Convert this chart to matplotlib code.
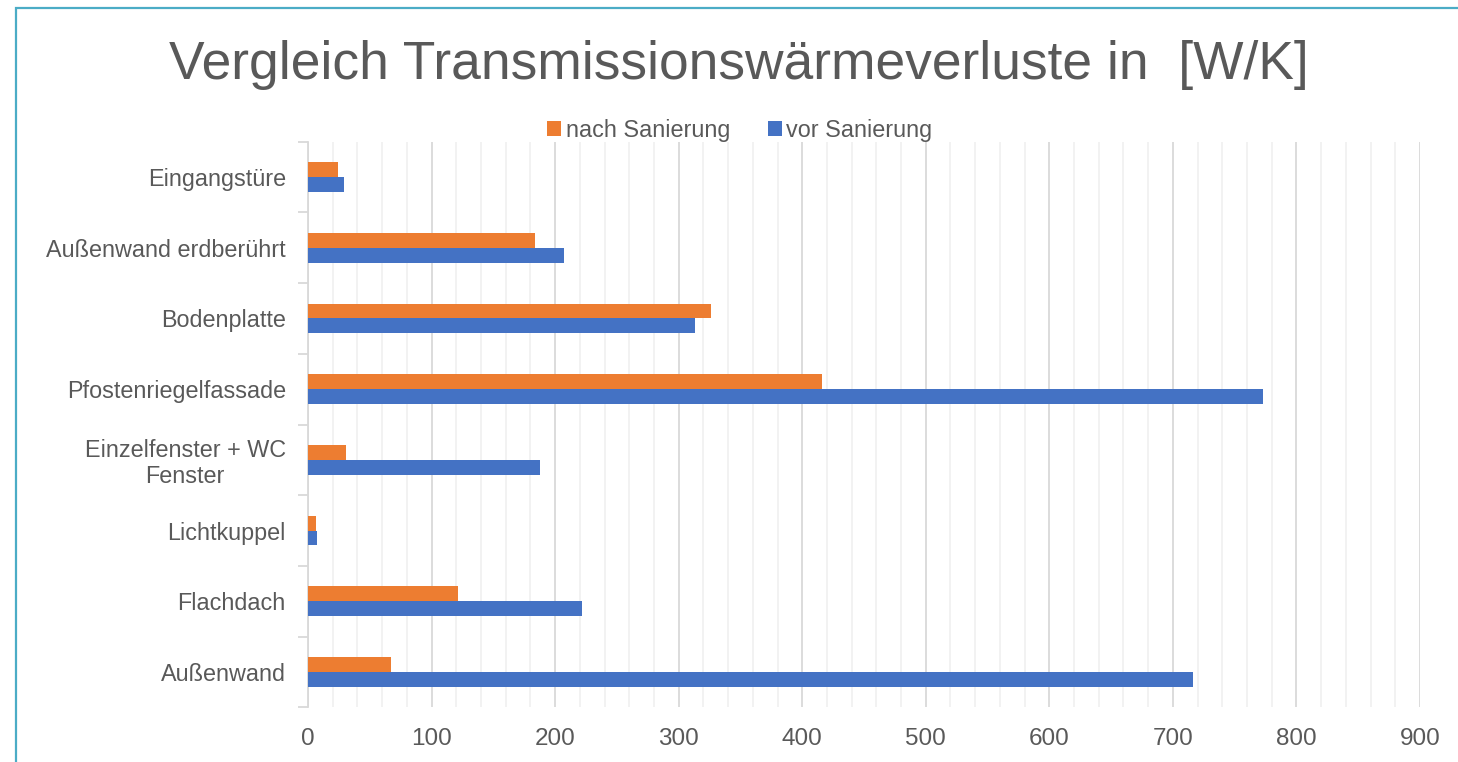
import matplotlib
matplotlib.use("Agg")
import matplotlib.pyplot as plt
import numpy as np
from matplotlib.patches import Rectangle

categories = ["Außenwand", "Flachdach", "Lichtkuppel", "Einzelfenster + WC\nFenster",
              "Pfostenriegelfassade", "Bodenplatte", "Außenwand erdberührt", "Eingangstüre"]
vor_sanierung = [716, 222, 7.5, 188, 773, 313, 207, 29.5]
nach_sanierung = [67, 121, 6.5, 30.5, 416, 326, 184, 24.5]
x_ticks = [0, 100, 200, 300, 400, 500, 600, 700, 800, 900]

TEXT = "#595959"
ORANGE = "#ED7D31"
BLUE = "#4472C4"

plt.rcParams['font.family'] = ['Liberation Sans', 'DejaVu Sans']

W, H = 1458, 762
fig = plt.figure(figsize=(W / 100, H / 100), dpi=100)
fig.patch.set_facecolor("white")

# outer light-blue border (left and top visible)
fig.patches.append(Rectangle((16 / W, -0.1), 1.2, (H - 8) / H + 0.1, transform=fig.transFigure,
                             fill=False, edgecolor="#4BACC6", linewidth=1.6))

ax = fig.add_axes([308 / W, 54.6 / H, (1420 - 308) / W, (707.4 - 141.6) / H])

y = np.arange(len(categories))
h = 0.21
ax.barh(y - h / 2, vor_sanierung, height=h, color=BLUE, label="vor Sanierung", zorder=3)
ax.barh(y + h / 2, nach_sanierung, height=h, color=ORANGE, label="nach Sanierung", zorder=3)

ax.set_xlim(0, 900)
ax.set_ylim(-0.5, len(categories) - 0.5)

ax.set_xticks(x_ticks)
ax.set_xticklabels([str(t) for t in x_ticks], fontsize=17.5, color=TEXT)
ax.set_xticks(np.arange(0, 901, 20), minor=True)
ax.grid(axis="x", which="major", color="#D9D9D9", linewidth=1.3, zorder=0)
ax.grid(axis="x", which="minor", color="#F0F0F0", linewidth=1.2, zorder=0)
ax.tick_params(axis="x", which="both", length=0, pad=15)

ax.set_yticks(y)
ax.set_yticklabels(categories, fontsize=16.8, color=TEXT, linespacing=1.15, multialignment="center")
ax.set_yticks(np.arange(-0.5, len(categories), 1.0), minor=True)
ax.tick_params(axis="y", which="major", length=0, pad=16)
ax.tick_params(axis="y", which="minor", length=7, width=1.3, color="#D9D9D9")

for s in ["top", "right", "bottom"]:
    ax.spines[s].set_visible(False)
ax.spines["left"].set_color("#D9D9D9")
ax.spines["left"].set_linewidth(1.3)

fig.text(739 / W, 1 - 65 / H, "Vergleich Transmissionswärmeverluste in  [W/K]",
         ha="center", va="center", fontsize=38.4, color=TEXT)

handles, labels = ax.get_legend_handles_labels()
leg = fig.legend(handles[::-1], labels[::-1], loc="center", bbox_to_anchor=(740 / W, 1 - 130 / H),
                 ncol=2, frameon=False, fontsize=16.8, handlelength=0.6, handleheight=0.6,
                 handletextpad=0.2, columnspacing=1.6)
for t in leg.get_texts():
    t.set_color(TEXT)

fig.savefig("out.png", dpi=100, facecolor="white")
